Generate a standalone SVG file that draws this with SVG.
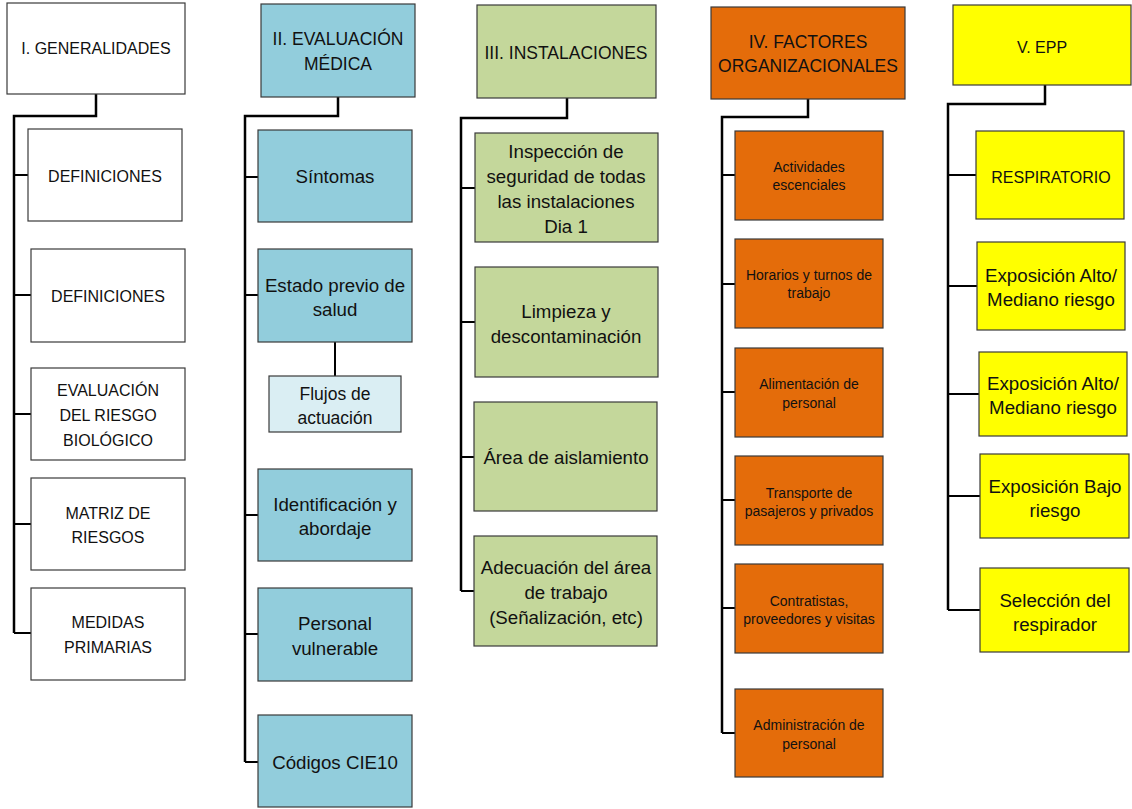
<svg xmlns="http://www.w3.org/2000/svg" width="1132" height="809" viewBox="0 0 1132 809">
<style>
.b{stroke:#3a3a3a;stroke-width:1.2}
.w{fill:#ffffff}
.bl{fill:#92CDDC}
.lb{fill:#DAEEF3}
.g{fill:#C4D79B}
.o{fill:#E46C0A}
.y{fill:#FFFF00}
text{font-family:"Liberation Sans",Arial,sans-serif;fill:#111;text-anchor:middle}
.f16{font-size:16px}
.f17{font-size:17.5px}
.f18{font-size:18.7px}
.f13{font-size:14px}
.c{fill:none;stroke:#000;stroke-width:2.5}
.t{fill:none;stroke:#000;stroke-width:2}
</style>
<rect width="1132" height="809" fill="#fff"/>
<g id="connectors">
<path class="c" d="M96 94V116H14V633"/>
<path class="t" d="M14 175H28M14 295H31M14 414H31M14 524H31M14 633H31"/>
<path class="c" d="M338 97V116H245V762"/>
<path class="t" d="M245 177H258M245 295H258M245 515H258M245 634H258M245 762H258M335 342V376"/>
<path class="c" d="M567 98V118H461V591"/>
<path class="t" d="M461 188H475M461 322H475M461 457H474M461 591H474"/>
<path class="c" d="M808 99V117H722V733"/>
<path class="t" d="M722 175H735M722 284H735M722 392H735M722 500H735M722 608H735M722 733H735"/>
<path class="c" d="M1045 85V104H948V610"/>
<path class="t" d="M948 175H976M948 286H977M948 394H979M948 496H980M948 610H980"/>
</g>
<g id="n1"><rect class="b w" x="7" y="3" width="178" height="91"/><text class="f16" x="96" y="54">I. GENERALIDADES</text></g>
<g id="n1a"><rect class="b w" x="28" y="129" width="154" height="92"/><text class="f16" x="105" y="182">DEFINICIONES</text></g>
<g id="n1b"><rect class="b w" x="31" y="249" width="154" height="93"/><text class="f16" x="108" y="302">DEFINICIONES</text></g>
<g id="n1c"><rect class="b w" x="31" y="368" width="154" height="92"/><text class="f16" x="108" y="396">EVALUACIÓN</text><text class="f16" x="108" y="421">DEL RIESGO</text><text class="f16" x="108" y="446">BIOLÓGICO</text></g>
<g id="n1d"><rect class="b w" x="31" y="478" width="154" height="92"/><text class="f16" x="108" y="519">MATRIZ DE</text><text class="f16" x="108" y="543">RIESGOS</text></g>
<g id="n1e"><rect class="b w" x="31" y="588" width="154" height="92"/><text class="f16" x="108" y="628">MEDIDAS</text><text class="f16" x="108" y="653">PRIMARIAS</text></g>

<g id="n2"><rect class="b bl" x="261" y="4" width="154" height="93"/><text class="f17" x="338" y="45">II. EVALUACIÓN</text><text class="f17" x="338" y="70">MÉDICA</text></g>
<g id="n2a"><rect class="b bl" x="258" y="130" width="154" height="92"/><text class="f18" x="335" y="183">Síntomas</text></g>
<g id="n2b"><rect class="b bl" x="258" y="249" width="154" height="93"/><text class="f18" x="335" y="292">Estado previo de</text><text class="f18" x="335" y="316">salud</text></g>
<g id="n2c"><rect class="b lb" x="269" y="376" width="132" height="56"/><text class="f17" x="335" y="400">Flujos de</text><text class="f17" x="335" y="424">actuación</text></g>
<g id="n2d"><rect class="b bl" x="258" y="469" width="154" height="92"/><text class="f18" x="335" y="511">Identificación y</text><text class="f18" x="335" y="535">abordaje</text></g>
<g id="n2e"><rect class="b bl" x="258" y="588" width="154" height="93"/><text class="f18" x="335" y="630">Personal</text><text class="f18" x="335" y="655">vulnerable</text></g>
<g id="n2f"><rect class="b bl" x="258" y="715" width="154" height="92"/><text class="f18" x="335" y="769">Códigos CIE10</text></g>

<g id="n3"><rect class="b g" x="477" y="5" width="179" height="93"/><text class="f17" x="566" y="59">III. INSTALACIONES</text></g>
<g id="n3a"><rect class="b g" x="475" y="133" width="183" height="109"/><text class="f18" x="566" y="158">Inspección de</text><text class="f18" x="566" y="183">seguridad de todas</text><text class="f18" x="566" y="208">las instalaciones</text><text class="f18" x="566" y="233">Dia 1</text></g>
<g id="n3b"><rect class="b g" x="475" y="267" width="183" height="110"/><text class="f18" x="566" y="318">Limpieza y</text><text class="f18" x="566" y="343">descontaminación</text></g>
<g id="n3c"><rect class="b g" x="474" y="402" width="183" height="109"/><text class="f18" x="566" y="464">Área de aislamiento</text></g>
<g id="n3d"><rect class="b g" x="474" y="536" width="183" height="110"/><text class="f18" x="566" y="574">Adecuación del área</text><text class="f18" x="566" y="599">de trabajo</text><text class="f18" x="566" y="624">(Señalización, etc)</text></g>

<g id="n4"><rect class="b o" x="711" y="7" width="194" height="92"/><text class="f17" x="808" y="48">IV. FACTORES</text><text class="f17" x="808" y="72">ORGANIZACIONALES</text></g>
<g id="n4a"><rect class="b o" x="735" y="131" width="148" height="89"/><text class="f13" x="809" y="172">Actividades</text><text class="f13" x="809" y="190">escenciales</text></g>
<g id="n4b"><rect class="b o" x="735" y="239" width="148" height="89"/><text class="f13" x="809" y="280">Horarios y turnos de</text><text class="f13" x="809" y="298">trabajo</text></g>
<g id="n4c"><rect class="b o" x="735" y="348" width="148" height="89"/><text class="f13" x="809" y="389">Alimentación de</text><text class="f13" x="809" y="408">personal</text></g>
<g id="n4d"><rect class="b o" x="735" y="456" width="148" height="89"/><text class="f13" x="809" y="498">Transporte de</text><text class="f13" x="809" y="516">pasajeros y privados</text></g>
<g id="n4e"><rect class="b o" x="735" y="564" width="148" height="89"/><text class="f13" x="809" y="606">Contratistas,</text><text class="f13" x="809" y="624">proveedores y visitas</text></g>
<g id="n4f"><rect class="b o" x="735" y="689" width="148" height="88"/><text class="f13" x="809" y="730">Administración de</text><text class="f13" x="809" y="749">personal</text></g>

<g id="n5"><rect class="b y" x="953" y="5" width="178" height="80"/><text class="f16" x="1042" y="53">V. EPP</text></g>
<g id="n5a"><rect class="b y" x="976" y="131" width="148" height="88"/><text class="f16" x="1051" y="183">RESPIRATORIO</text></g>
<g id="n5b"><rect class="b y" x="977" y="242" width="148" height="88"/><text class="f18" x="1051" y="282">Exposición Alto/</text><text class="f18" x="1051" y="306">Mediano riesgo</text></g>
<g id="n5c"><rect class="b y" x="979" y="352" width="148" height="84"/><text class="f18" x="1053" y="390">Exposición Alto/</text><text class="f18" x="1053" y="414">Mediano riesgo</text></g>
<g id="n5d"><rect class="b y" x="980" y="454" width="149" height="84"/><text class="f18" x="1055" y="493">Exposición Bajo</text><text class="f18" x="1055" y="517">riesgo</text></g>
<g id="n5e"><rect class="b y" x="980" y="568" width="149" height="84"/><text class="f18" x="1055" y="607">Selección del</text><text class="f18" x="1055" y="631">respirador</text></g>
</svg>
